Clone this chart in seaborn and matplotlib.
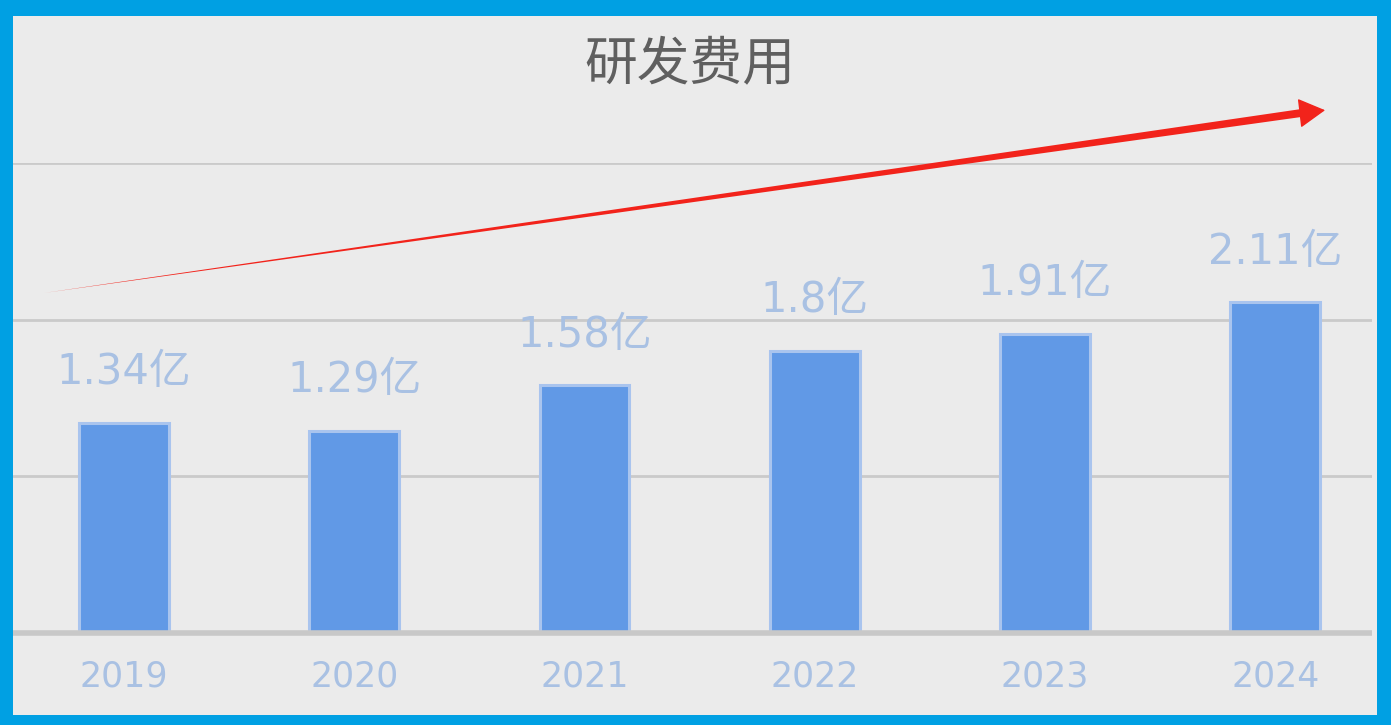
import matplotlib
matplotlib.use("Agg")
import matplotlib.pyplot as plt
from matplotlib.patches import Rectangle, Polygon, FancyArrowPatch
import seaborn as sns
import pandas as pd

# data
years = ["2019", "2020", "2021", "2022", "2023", "2024"]
spend = [1.34, 1.29, 1.58, 1.8, 1.91, 2.11]
labels = ["1.34亿", "1.29亿", "1.58亿", "1.8亿", "1.91亿", "2.11亿"]
title = "研发费用"

sns.set_theme(style="white")
plt.rcParams['font.family'] = ['DejaVu Sans', 'Noto Sans CJK SC']

df = pd.DataFrame({"year": years, "spend": spend})

fig = plt.figure(figsize=(13.91, 7.25), dpi=100, facecolor="#00A0E3")
# inner light grey panel inside the blue frame
fig.patches.append(Rectangle((0.00935, 0.0138), 0.9806, 0.964, transform=fig.transFigure,
                             facecolor="#EBEBEB", edgecolor="none", zorder=-5))

ax = fig.add_axes([0.00935, 0.1269, 0.977, 0.6483])
ax.set_facecolor("none")
ax.set_zorder(2)

sns.barplot(data=df, x="year", y="spend", ax=ax, color="#6199E6", saturation=1,
            width=0.39, edgecolor="#A9C4EE", linewidth=2.2, zorder=3)

ax.set_xlim(-0.482, 5.42)
ax.set_ylim(0, 3.0)
ax.set_yticks([1, 2, 3])
ax.yaxis.grid(True, color="#CACACA", linewidth=2)
ax.set_axisbelow(True)
ax.tick_params(axis="y", left=False, labelleft=False)
ax.tick_params(axis="x", length=0, pad=19, labelsize=25, labelcolor="#A9C1E3")
ax.set_xlabel("")
ax.set_ylabel("")
for s in ["top", "right", "left"]:
    ax.spines[s].set_visible(False)
ax.spines["bottom"].set_color("#C8C8C8")
ax.spines["bottom"].set_linewidth(4)
ax.spines["bottom"].set_capstyle("butt")
ax.spines["bottom"].set_zorder(4)

# value labels above bars
for i, (v, lab) in enumerate(zip(spend, labels)):
    ax.annotate(lab, (i, v), xytext=(0, 28), textcoords="offset points",
                ha="center", va="baseline", fontsize=30, color="#A9C1E3")

fig.text(0.496, 0.912, title, ha="center", va="center", fontsize=38,
         color="#5F5F5F", family=["Noto Sans CJK SC", "DejaVu Sans"], zorder=5)

# red trend arrow: tapered shaft + head
x0, y0 = 0.032, 0.596
x1, y1 = 0.935, 0.843
shaft = Polygon([(x0, y0), (x1, y1 + 0.0065), (x1, y1 - 0.0045)], closed=True,
                transform=fig.transFigure, facecolor="#F2231B", edgecolor="none", zorder=5)
fig.patches.append(shaft)
fig.add_artist(FancyArrowPatch(
    (x1 - 0.004, y1 + 0.0002), (0.9526, 0.848), transform=fig.transFigure,
    arrowstyle="-|>,head_length=17,head_width=9.5", color="#F2231B", lw=1,
    shrinkA=0, shrinkB=0, zorder=6))

fig.savefig("out.png", dpi=100, facecolor=fig.get_facecolor())
